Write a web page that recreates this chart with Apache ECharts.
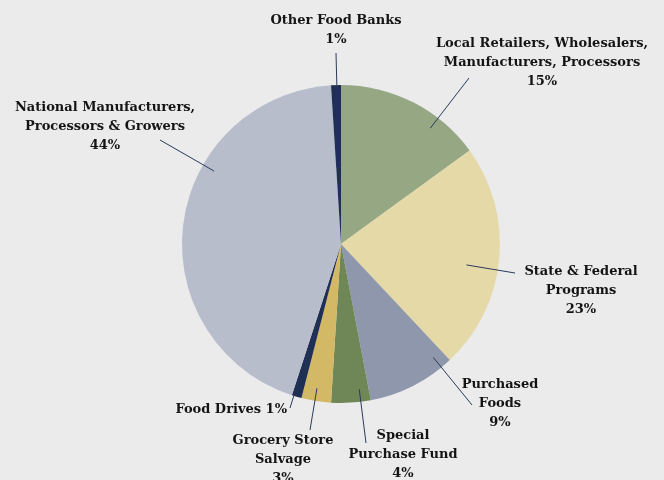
<!DOCTYPE html>
<html>
<head>
<meta charset="utf-8">
<script src="https://cdn.jsdelivr.net/npm/echarts@6/dist/echarts.min.js"></script>
<style>
html,body{margin:0;padding:0;background:#ebebeb;}
#chart{width:664px;height:480px;}
</style>
</head>
<body>
<div id="chart"></div>
<script>
// Data (clockwise from 12 o'clock)
const categories = [
  'Local Retailers, Wholesalers,\nManufacturers, Processors',
  'State & Federal\nPrograms',
  'Purchased\nFoods',
  'Special\nPurchase Fund',
  'Grocery Store\nSalvage',
  'Food Drives',
  'National Manufacturers,\nProcessors & Growers',
  'Other Food Banks'
];
const values = [15, 23, 9, 4, 3, 1, 44, 1];
const colors = ['#96a784', '#e6d9a8', '#8f97ac', '#6f8656', '#d3b965', '#1f3054', '#b8bdcc', '#1f3054'];

// Label placement (text anchors and leader-line ends; styling only)
const CX = 341, CY = 244, R = 159;
const labelPos = [
  {x: 542, y: 63, align: 'center', end: [469, 78], frac: 0.92},
  {x: 581, y: 291, align: 'center', end: [515, 273], frac: 0.8},
  {x: 500, y: 404, align: 'center', end: [472, 405], frac: 0.92},
  {x: 403, y: 455, align: 'center', end: [366, 443], frac: 0.92},
  {x: 283, y: 460, align: 'center', end: [310, 430], frac: 0.92},
  {x: 287, y: 410, align: 'right', end: [290, 408], frac: 1.0},
  {x: 105, y: 127, align: 'center', end: [160, 140], frac: 0.92},
  {x: 336, y: 30, align: 'center', end: [336, 53], frac: 1.0}
];

function leaderStart(lp) {
  const dx = lp.end[0] - CX, dy = lp.end[1] - CY;
  const d = Math.sqrt(dx * dx + dy * dy);
  return [CX + dx / d * R * lp.frac, CY + dy / d * R * lp.frac];
}

const chart = echarts.init(document.getElementById('chart'), null, {renderer: 'canvas'});
chart.setOption({
  backgroundColor: '#ebebeb',
  animation: false,
  graphic: labelPos.map(lp => ({
    type: 'polyline',
    z: 100,
    silent: true,
    shape: {points: [leaderStart(lp), lp.end]},
    style: {stroke: '#2b3a5c', lineWidth: 1, fill: null}
  })),
  series: [{
    type: 'pie',
    center: [CX, CY],
    radius: R,
    startAngle: 90,
    clockwise: true,
    avoidLabelOverlap: false,
    data: categories.map((c, i) => ({name: c, value: values[i], itemStyle: {color: colors[i]}})),
    itemStyle: {borderWidth: 0},
    label: {
      show: true,
      formatter: p => p.dataIndex === 5 ? p.name + ' ' + p.value + '%' : p.name + '\n' + p.value + '%',
      fontFamily: 'DejaVu Serif',
      fontWeight: 'bold',
      fontSize: 13,
      lineHeight: 19,
      color: '#141414',
      align: 'center'
    },
    labelLine: {show: false},
    labelLayout: p => {
      const lp = labelPos[p.dataIndex];
      return {x: lp.x, y: lp.y, align: lp.align, verticalAlign: 'middle'};
    }
  }]
});
</script>
</body>
</html>
